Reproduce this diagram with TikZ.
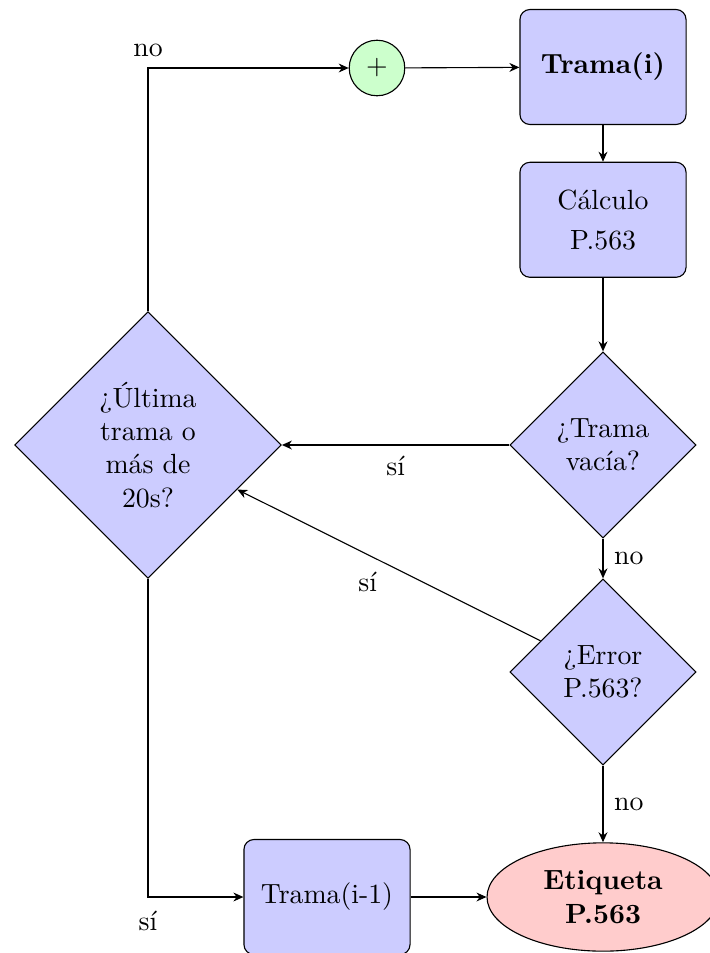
\documentclass[tikz,border=0pt]{standalone}
\usetikzlibrary{shapes.geometric,arrows.meta}
\begin{document}
\begin{tikzpicture}[x=0.36pt,y=-0.36pt,
  proc/.style={rectangle,rounded corners=3.6pt,draw,fill=blue!20,minimum width=59.8pt,minimum height=41.4pt,align=center,inner sep=0pt},
  dec/.style={diamond,draw,fill=blue!20,aspect=1,inner sep=0pt,align=center},
  arr/.style={-{Stealth[length=3.6pt,width=3.2pt]}},
  lbl/.style={inner sep=3.8pt}]
\useasboundingbox (0,0) rectangle (709,953);
\node[circle,draw,fill=green!20,minimum size=20pt,inner sep=0pt] (sum) at (377,68) {$+$};
\node[proc] (trama) at (603,67) {\textbf{Trama(i)}};
\node[proc,yshift=-1pt] (calc) at (603,217) {C\'alculo\\[2.5pt]P.563};
\node[dec,minimum size=67pt] (vacia) at (603,445) {¿Trama\\vac\'ia?};
\node[dec,minimum size=67pt] (error) at (603,672) {¿Error\\P.563?};
\node[dec,minimum size=96pt] (ultima) at (148,445) {¿\'Ultima\\trama o\\m\'as de\\20s?};
\node[proc] (prev) at (327,897) {Trama(i-1)};
\node[ellipse,draw,fill=red!20,minimum width=83.5pt,minimum height=39pt,inner sep=0pt,align=center] (etiq) at (603,897) {\textbf{Etiqueta}\\\textbf{P.563}};
\draw[arr] (sum) -- (trama);
\draw[arr] (trama) -- (calc);
\draw[arr] (calc) -- (vacia);
\draw[arr] (vacia) -- node[below,lbl] {s\'i} (ultima);
\draw[arr] (vacia) -- node[right,lbl] {no} (error);
\draw[arr] (error) -- node[below,lbl,pos=0.57,inner sep=6pt] {s\'i} (ultima);
\draw[arr] (error) -- node[right,lbl] {no} (etiq);
\draw[arr] (ultima) |- node[below,lbl,inner sep=5pt] {s\'i} (prev);
\draw[arr] (ultima) |- node[above,lbl] {no} (sum);
\draw[arr] (prev) -- (etiq);
\end{tikzpicture}
\end{document}
